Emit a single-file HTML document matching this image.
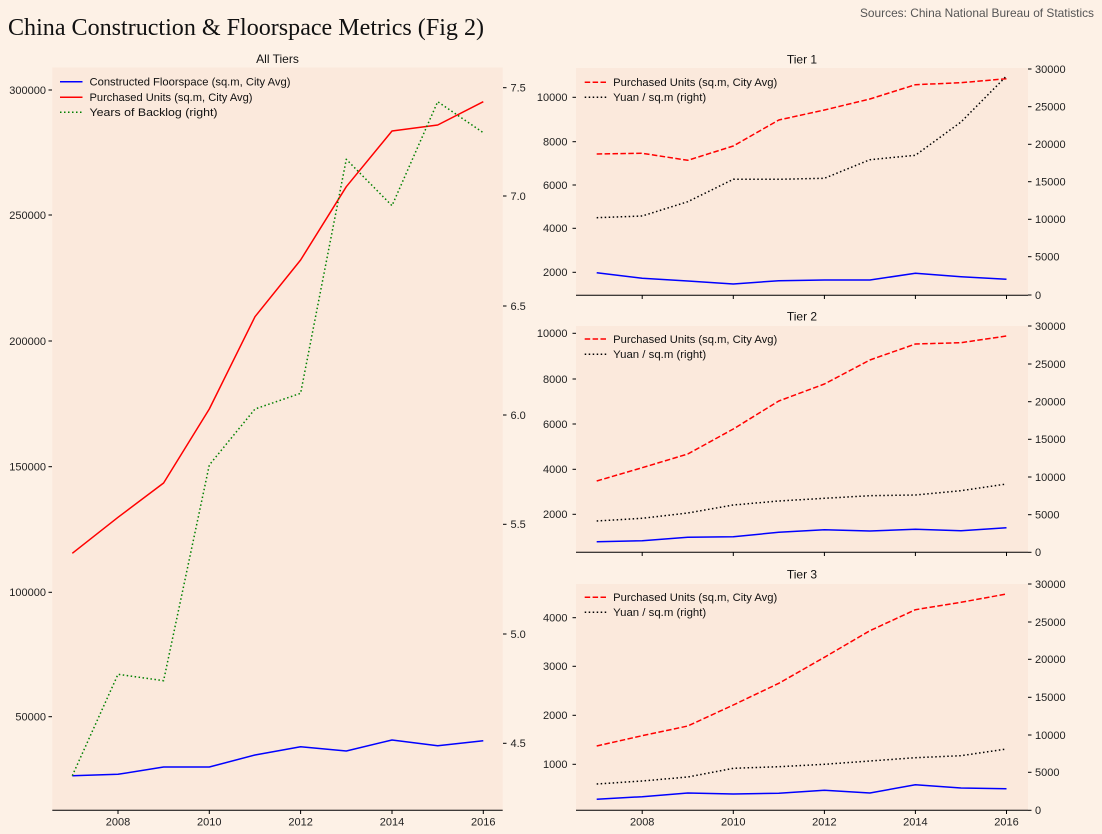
<!DOCTYPE html>
<html><head><meta charset="utf-8"><style>
html,body{margin:0;padding:0;background:#fdf1e6;}
svg{display:block;font-family:"Liberation Sans",sans-serif;}
.tk{font-size:11px;fill:#222;}
.lg{font-size:11px;fill:#111;}
.tt{font-size:12px;fill:#111;}
</style></head><body>
<svg width="1102" height="834" viewBox="0 0 1102 834" xmlns="http://www.w3.org/2000/svg">
<rect width="1102" height="834" fill="#fdf1e6"/>
<text x="8" y="35" font-family="'Liberation Serif',serif" font-size="24" fill="#111" textLength="476" lengthAdjust="spacingAndGlyphs">China Construction &amp; Floorspace Metrics (Fig 2)</text>
<text x="860" y="17" font-size="12" fill="#555" textLength="234" lengthAdjust="spacingAndGlyphs">Sources: China National Bureau of Statistics</text>

<!-- LEFT AXES -->
<rect x="52.3" y="67.5" width="450.4" height="742.5" fill="#fbe9dc"/>
<text class="tt" x="277.5" y="63" text-anchor="middle">All Tiers</text>
<line x1="52.3" y1="810.3" x2="502.7" y2="810.3" stroke="#000" stroke-width="1"/>
<g stroke="#000" stroke-width="1">
<line x1="118" y1="810" x2="118" y2="814"/><line x1="209.3" y1="810" x2="209.3" y2="814"/><line x1="300.6" y1="810" x2="300.6" y2="814"/><line x1="392" y1="810" x2="392" y2="814"/><line x1="483.3" y1="810" x2="483.3" y2="814"/>
<line x1="48.5" y1="90" x2="52" y2="90"/><line x1="48.5" y1="215" x2="52" y2="215"/><line x1="48.5" y1="341" x2="52" y2="341"/><line x1="48.5" y1="466.7" x2="52" y2="466.7"/><line x1="48.5" y1="592.3" x2="52" y2="592.3"/><line x1="48.5" y1="716.7" x2="52" y2="716.7"/>
<line x1="503" y1="87.7" x2="506.5" y2="87.7"/><line x1="503" y1="196" x2="506.5" y2="196"/><line x1="503" y1="306" x2="506.5" y2="306"/><line x1="503" y1="415" x2="506.5" y2="415"/><line x1="503" y1="524.3" x2="506.5" y2="524.3"/><line x1="503" y1="634" x2="506.5" y2="634"/><line x1="503" y1="743.3" x2="506.5" y2="743.3"/>
</g>
<g class="tk" text-anchor="middle">
<text x="118" y="825.5">2008</text><text x="209.3" y="825.5">2010</text><text x="300.6" y="825.5">2012</text><text x="392" y="825.5">2014</text><text x="483.3" y="825.5">2016</text>
</g>
<g class="tk" text-anchor="end">
<text x="46" y="93.8">300000</text><text x="46" y="218.8">250000</text><text x="46" y="344.8">200000</text><text x="46" y="470.5">150000</text><text x="46" y="596.1">100000</text><text x="46" y="720.5">50000</text>
</g>
<g class="tk">
<text x="510.5" y="91.5">7.5</text><text x="510.5" y="199.8">7.0</text><text x="510.5" y="309.8">6.5</text><text x="510.5" y="418.8">6.0</text><text x="510.5" y="528.1">5.5</text><text x="510.5" y="637.8">5.0</text><text x="510.5" y="747.1">4.5</text>
</g>
<g fill="none" stroke-width="1.5" stroke-linejoin="round">
<polyline stroke="#0000ff" points="72.3,775.7 118,774.3 163.6,767 209.3,767 255,755 300.6,746.7 346.3,751 392,740 437.7,745.7 483.3,740.7"/>
<polyline stroke="#ff0000" points="72.3,553.3 118,517.3 163.6,483 209.3,409 255,316.7 300.6,260 346.3,186.7 392,131 437.7,125 483.3,101.7"/>
<polyline stroke="#008000" stroke-dasharray="1.5 2.5" points="72.3,775.7 118,674.3 163.6,680.7 209.3,465 255,409 300.6,393.3 346.3,159.3 392,205.7 437.7,101.7 483.3,132.7"/>
</g>
<g stroke-width="1.5">
<line x1="60" y1="81.7" x2="82.5" y2="81.7" stroke="#0000ff"/>
<line x1="60" y1="97.3" x2="82.5" y2="97.3" stroke="#ff0000"/>
<line x1="60" y1="112.3" x2="82.5" y2="112.3" stroke="#008000" stroke-dasharray="1.5 2.5"/>
</g>
<g class="lg">
<text x="89.5" y="85.5" textLength="201" lengthAdjust="spacingAndGlyphs">Constructed Floorspace (sq.m, City Avg)</text>
<text x="89.5" y="101.1" textLength="163" lengthAdjust="spacingAndGlyphs">Purchased Units (sq.m, City Avg)</text>
<text x="89.5" y="116.1" textLength="128" lengthAdjust="spacingAndGlyphs">Years of Backlog (right)</text>
</g>

<!-- TIER 1 -->
<rect x="576" y="68" width="452" height="227" fill="#fbe9dc"/>
<text class="tt" x="802" y="63.5" text-anchor="middle">Tier 1</text>
<line x1="576" y1="295.3" x2="1028" y2="295.3" stroke="#000" stroke-width="1"/>
<g stroke="#000" stroke-width="1">
<line x1="642.2" y1="295" x2="642.2" y2="299"/><line x1="733.3" y1="295" x2="733.3" y2="299"/><line x1="824.4" y1="295" x2="824.4" y2="299"/><line x1="915.4" y1="295" x2="915.4" y2="299"/><line x1="1006.5" y1="295" x2="1006.5" y2="299"/>
<line x1="572.5" y1="97.3" x2="576" y2="97.3"/><line x1="572.5" y1="141.7" x2="576" y2="141.7"/><line x1="572.5" y1="185" x2="576" y2="185"/><line x1="572.5" y1="228.3" x2="576" y2="228.3"/><line x1="572.5" y1="272.3" x2="576" y2="272.3"/>
<line x1="1028" y1="69" x2="1031.5" y2="69"/><line x1="1028" y1="106.7" x2="1031.5" y2="106.7"/><line x1="1028" y1="144.3" x2="1031.5" y2="144.3"/><line x1="1028" y1="181.7" x2="1031.5" y2="181.7"/><line x1="1028" y1="219.3" x2="1031.5" y2="219.3"/><line x1="1028" y1="256.7" x2="1031.5" y2="256.7"/><line x1="1028" y1="295" x2="1031.5" y2="295"/>
</g>
<g class="tk" text-anchor="end">
<text x="567.5" y="101.1">10000</text><text x="567.5" y="145.5">8000</text><text x="567.5" y="188.8">6000</text><text x="567.5" y="232.1">4000</text><text x="567.5" y="276.1">2000</text>
</g>
<g class="tk">
<text x="1035" y="72.8">30000</text><text x="1035" y="110.5">25000</text><text x="1035" y="148.1">20000</text><text x="1035" y="185.5">15000</text><text x="1035" y="223.1">10000</text><text x="1035" y="260.5">5000</text><text x="1035" y="298.8">0</text>
</g>
<g fill="none" stroke-width="1.5" stroke-linejoin="round">
<polyline stroke="#0000ff" points="596.7,272.7 642.2,278.3 687.8,281 733.3,284 778.8,280.7 824.4,280 869.9,280 915.4,273.3 961,276.7 1006.5,279.3"/>
<polyline stroke="#ff0000" stroke-dasharray="5.5 2.4" points="596.7,154 642.2,153.3 687.8,160.3 733.3,146 778.8,120 824.4,110 869.9,99 915.4,84.7 961,82.7 1006.5,78.7"/>
<polyline stroke="#000" stroke-dasharray="1.5 2.5" points="596.7,217.7 642.2,216 687.8,201.7 733.3,179.3 778.8,179.3 824.4,178.3 869.9,159.7 915.4,155.3 961,122 1006.5,76"/>
</g>
<line x1="584.7" y1="82.3" x2="606.6" y2="82.3" stroke="#ff0000" stroke-width="1.5" stroke-dasharray="5.5 2.4"/>
<line x1="584.7" y1="97.3" x2="606.6" y2="97.3" stroke="#000" stroke-width="1.5" stroke-dasharray="1.5 2.5"/>
<g class="lg">
<text x="613.2" y="86.1" textLength="164" lengthAdjust="spacingAndGlyphs">Purchased Units (sq.m, City Avg)</text>
<text x="613.2" y="101.1" textLength="93" lengthAdjust="spacingAndGlyphs">Yuan / sq.m (right)</text>
</g>

<!-- TIER 2 -->
<rect x="576" y="326" width="452" height="226.3" fill="#fbe9dc"/>
<text class="tt" x="802" y="320.5" text-anchor="middle">Tier 2</text>
<line x1="576" y1="552.3" x2="1028" y2="552.3" stroke="#000" stroke-width="1"/>
<g stroke="#000" stroke-width="1">
<line x1="642.2" y1="552" x2="642.2" y2="556"/><line x1="733.3" y1="552" x2="733.3" y2="556"/><line x1="824.4" y1="552" x2="824.4" y2="556"/><line x1="915.4" y1="552" x2="915.4" y2="556"/><line x1="1006.5" y1="552" x2="1006.5" y2="556"/>
<line x1="572.5" y1="333.3" x2="576" y2="333.3"/><line x1="572.5" y1="379" x2="576" y2="379"/><line x1="572.5" y1="424" x2="576" y2="424"/><line x1="572.5" y1="469.3" x2="576" y2="469.3"/><line x1="572.5" y1="514.3" x2="576" y2="514.3"/>
<line x1="1028" y1="326" x2="1031.5" y2="326"/><line x1="1028" y1="364" x2="1031.5" y2="364"/><line x1="1028" y1="401.7" x2="1031.5" y2="401.7"/><line x1="1028" y1="439.3" x2="1031.5" y2="439.3"/><line x1="1028" y1="477" x2="1031.5" y2="477"/><line x1="1028" y1="514.7" x2="1031.5" y2="514.7"/><line x1="1028" y1="552.3" x2="1031.5" y2="552.3"/>
</g>
<g class="tk" text-anchor="end">
<text x="567.5" y="337.1">10000</text><text x="567.5" y="382.8">8000</text><text x="567.5" y="427.8">6000</text><text x="567.5" y="473.1">4000</text><text x="567.5" y="518.1">2000</text>
</g>
<g class="tk">
<text x="1035" y="329.8">30000</text><text x="1035" y="367.8">25000</text><text x="1035" y="405.5">20000</text><text x="1035" y="443.1">15000</text><text x="1035" y="480.8">10000</text><text x="1035" y="518.5">5000</text><text x="1035" y="556.1">0</text>
</g>
<g fill="none" stroke-width="1.5" stroke-linejoin="round">
<polyline stroke="#0000ff" points="596.7,541.7 642.2,540.7 687.8,537.3 733.3,536.7 778.8,532.3 824.4,529.7 869.9,531 915.4,529.3 961,530.7 1006.5,527.7"/>
<polyline stroke="#ff0000" stroke-dasharray="5.5 2.4" points="596.7,481 642.2,467.7 687.8,454 733.3,429 778.8,401 824.4,384 869.9,360 915.4,344 961,342.7 1006.5,336"/>
<polyline stroke="#000" stroke-dasharray="1.5 2.5" points="596.7,521 642.2,518.3 687.8,513 733.3,505 778.8,501 824.4,498.3 869.9,495.7 915.4,495 961,490.7 1006.5,484"/>
</g>
<line x1="584.7" y1="339" x2="606.6" y2="339" stroke="#ff0000" stroke-width="1.5" stroke-dasharray="5.5 2.4"/>
<line x1="584.7" y1="354.3" x2="606.6" y2="354.3" stroke="#000" stroke-width="1.5" stroke-dasharray="1.5 2.5"/>
<g class="lg">
<text x="613.2" y="342.8" textLength="164" lengthAdjust="spacingAndGlyphs">Purchased Units (sq.m, City Avg)</text>
<text x="613.2" y="358.1" textLength="93" lengthAdjust="spacingAndGlyphs">Yuan / sq.m (right)</text>
</g>

<!-- TIER 3 -->
<rect x="576" y="584" width="452" height="226.3" fill="#fbe9dc"/>
<text class="tt" x="802" y="578.5" text-anchor="middle">Tier 3</text>
<line x1="576" y1="810.3" x2="1028" y2="810.3" stroke="#000" stroke-width="1"/>
<g stroke="#000" stroke-width="1">
<line x1="642.2" y1="810" x2="642.2" y2="814"/><line x1="733.3" y1="810" x2="733.3" y2="814"/><line x1="824.4" y1="810" x2="824.4" y2="814"/><line x1="915.4" y1="810" x2="915.4" y2="814"/><line x1="1006.5" y1="810" x2="1006.5" y2="814"/>
<line x1="572.5" y1="617.7" x2="576" y2="617.7"/><line x1="572.5" y1="666.3" x2="576" y2="666.3"/><line x1="572.5" y1="715.3" x2="576" y2="715.3"/><line x1="572.5" y1="764.3" x2="576" y2="764.3"/>
<line x1="1028" y1="584" x2="1031.5" y2="584"/><line x1="1028" y1="622" x2="1031.5" y2="622"/><line x1="1028" y1="659.3" x2="1031.5" y2="659.3"/><line x1="1028" y1="697.3" x2="1031.5" y2="697.3"/><line x1="1028" y1="735" x2="1031.5" y2="735"/><line x1="1028" y1="772.3" x2="1031.5" y2="772.3"/><line x1="1028" y1="810.3" x2="1031.5" y2="810.3"/>
</g>
<g class="tk" text-anchor="middle">
<text x="642.2" y="825.5">2008</text><text x="733.3" y="825.5">2010</text><text x="824.4" y="825.5">2012</text><text x="915.4" y="825.5">2014</text><text x="1006.5" y="825.5">2016</text>
</g>
<g class="tk" text-anchor="end">
<text x="567.5" y="621.5">4000</text><text x="567.5" y="670.1">3000</text><text x="567.5" y="719.1">2000</text><text x="567.5" y="768.1">1000</text>
</g>
<g class="tk">
<text x="1035" y="587.8">30000</text><text x="1035" y="625.8">25000</text><text x="1035" y="663.1">20000</text><text x="1035" y="701.1">15000</text><text x="1035" y="738.8">10000</text><text x="1035" y="776.1">5000</text><text x="1035" y="814.1">0</text>
</g>
<g fill="none" stroke-width="1.5" stroke-linejoin="round">
<polyline stroke="#0000ff" points="596.7,799.3 642.2,796.7 687.8,793 733.3,794 778.8,793.3 824.4,790.3 869.9,793 915.4,784.7 961,788 1006.5,788.7"/>
<polyline stroke="#ff0000" stroke-dasharray="5.5 2.4" points="596.7,746 642.2,735.7 687.8,726 733.3,705 778.8,683.3 824.4,657.3 869.9,630.7 915.4,609.7 961,602.3 1006.5,594"/>
<polyline stroke="#000" stroke-dasharray="1.5 2.5" points="596.7,784 642.2,781 687.8,777 733.3,768.3 778.8,766.7 824.4,764.3 869.9,761 915.4,757.7 961,755.7 1006.5,749"/>
</g>
<line x1="584.7" y1="597.3" x2="606.6" y2="597.3" stroke="#ff0000" stroke-width="1.5" stroke-dasharray="5.5 2.4"/>
<line x1="584.7" y1="612.3" x2="606.6" y2="612.3" stroke="#000" stroke-width="1.5" stroke-dasharray="1.5 2.5"/>
<g class="lg">
<text x="613.2" y="601.1" textLength="164" lengthAdjust="spacingAndGlyphs">Purchased Units (sq.m, City Avg)</text>
<text x="613.2" y="616.1" textLength="93" lengthAdjust="spacingAndGlyphs">Yuan / sq.m (right)</text>
</g>
</svg>
</body></html>
